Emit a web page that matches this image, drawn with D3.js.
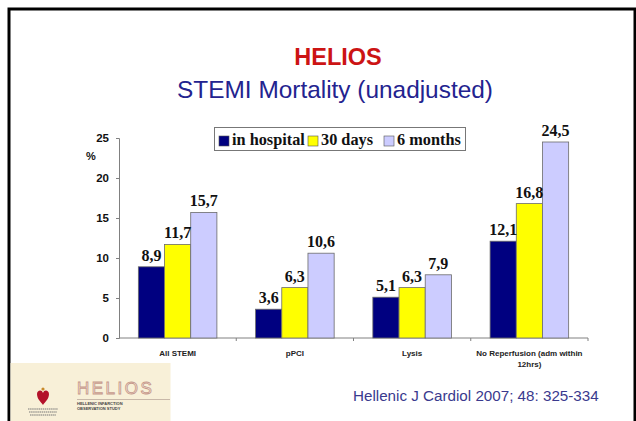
<!DOCTYPE html>
<html>
<head>
<meta charset="utf-8">
<script src="https://cdn.jsdelivr.net/npm/d3@7"></script>
<style>
    body { margin: 0; background: white; font-family: "Liberation Sans", Arial, sans-serif; }
    svg { display: block; }
</style>
</head>
<body>
<svg id="chart"></svg>
<script>
    // chart values
    let categories = ["All STEMI", "pPCI", "Lysis", "No Reperfusion (adm within|12hrs)"]
    let seriesNames = ["in hospital", "30 days", "6 months"]
    let inHospital = [8.9, 3.6, 5.1, 12.1]
    let days30 = [11.7, 6.3, 6.3, 16.8]
    let months6 = [15.7, 10.6, 7.9, 24.5]
    let yTicks = [0, 5, 10, 15, 20, 25]
    let seriesColors = ["#000080", "#ffff00", "#ccccff"]

    let width = 636, height = 421
    let margin = { top: 138, left: 119, right: 48, bottom: 83 }
    let bodyWidth = width - margin.left - margin.right
    let bodyHeight = height - margin.top - margin.bottom

    let svg = d3.select("#chart").attr("width", width).attr("height", height)

    // slide frame
    svg.append("path")
        .attr("d", `M9,${height} V9 H635 V${height}`)
        .attr("fill", "none").attr("stroke", "black").attr("stroke-width", 3)

    // titles
    svg.append("text").attr("x", 338).attr("y", 65).attr("text-anchor", "middle")
        .style("font-weight", "bold").style("font-size", "23.5px").attr("fill", "#cc1414")
        .text("HELIOS")
    svg.append("text").attr("x", 335).attr("y", 98).attr("text-anchor", "middle")
        .style("font-size", "24.4px").attr("fill", "#23238f")
        .text("STEMI Mortality (unadjusted)")

    let rows = categories.map((c, i) => ({ cat: c, vals: [inHospital[i], days30[i], months6[i]] }))

    let xScale = d3.scaleBand().domain(categories).range([0, bodyWidth]).paddingInner(0.33).paddingOuter(0.165)
    let xInner = d3.scaleBand().domain(d3.range(seriesNames.length)).range([0, xScale.bandwidth()])
    let yScale = d3.scaleLinear().domain([0, 25]).range([bodyHeight, 0])

    let body = svg.append("g").attr("transform", `translate(${margin.left},${margin.top})`)

    // axes
    let axisY = body.append("g").call(d3.axisLeft(yScale).tickValues(yTicks).tickSize(3).tickPadding(7))
    axisY.selectAll("path, line").attr("stroke", "#808080")
    axisY.selectAll("text").style("font-size", "11.5px").style("font-weight", "bold")
        .style("font-family", "Liberation Sans, Arial").attr("fill", "#111")

    let bandStep = xScale.step()
    let axisX = body.append("g").attr("transform", `translate(0,${bodyHeight})`)
    axisX.append("line").attr("x1", 0).attr("x2", bodyWidth).attr("stroke", "#808080")
    axisX.selectAll(".tk").data(d3.range(1, categories.length + 1)).enter().append("line")
        .attr("x1", d => d * bandStep).attr("x2", d => d * bandStep)
        .attr("y1", 0).attr("y2", 3).attr("stroke", "#808080")

    let catLabels = axisX.selectAll(".cat").data(categories).enter().append("text")
        .attr("text-anchor", "middle")
        .attr("transform", d => `translate(${xScale(d) + xScale.bandwidth() / 2},0)`)
        .style("font-size", "8px").style("font-weight", "bold").attr("fill", "#222")
    catLabels.each(function(d) {
        let lines = d.split("|")
        lines.forEach((l, i) => {
            d3.select(this).append("tspan").attr("x", 0).attr("y", 18 + i * 11).text(l)
        })
    })

    body.append("text").attr("x", -33).attr("y", 22)
        .style("font-size", "11px").style("font-weight", "bold").attr("fill", "#111").text("%")

    // bars
    let groups = body.selectAll(".grp").data(rows).enter().append("g")
        .attr("transform", d => `translate(${xScale(d.cat)},0)`)
    groups.selectAll("rect").data(d => d.vals).enter().append("rect")
        .attr("x", (d, i) => xInner(i))
        .attr("y", d => yScale(d))
        .attr("width", xInner.bandwidth())
        .attr("height", d => bodyHeight - yScale(d))
        .attr("fill", (d, i) => seriesColors[i])
        .attr("stroke", "#6b6b6b").attr("stroke-width", 0.8)

    let fmt = v => d3.format(".1f")(v).replace(".", ",")
    groups.selectAll(".lbl").data(d => d.vals).enter().append("text")
        .attr("x", (d, i) => xInner(i) + xInner.bandwidth() / 2)
        .attr("y", d => yScale(d) - 6)
        .attr("text-anchor", "middle")
        .style("font-family", "Liberation Serif, Times New Roman, serif")
        .style("font-weight", "bold").style("font-size", "16px").attr("fill", "#111")
        .text(fmt)

    // legend (swatch positions)
    let legendX = [219, 308, 384]
    let legend = svg.append("g")
    legend.append("rect").attr("x", 214.5).attr("y", 127.5).attr("width", 251).attr("height", 23)
        .attr("fill", "white").attr("stroke", "#777")
    seriesNames.forEach((name, i) => {
        legend.append("rect").attr("x", legendX[i]).attr("y", 136).attr("width", 10).attr("height", 10)
            .attr("fill", seriesColors[i]).attr("stroke", "#555").attr("stroke-width", 0.6)
        legend.append("text").attr("x", legendX[i] + 13).attr("y", 145)
            .style("font-family", "Liberation Serif, Times New Roman, serif")
            .style("font-weight", "bold").style("font-size", "16.3px").attr("fill", "#111")
            .text(name)
    })

    // footer logo panel
    let foot = svg.append("g")
    foot.append("rect").attr("x", 10.5).attr("y", 363).attr("width", 160).attr("height", height - 363)
        .attr("fill", "#f8f0d8")
    foot.append("path")
        .attr("d", "M37,394 C37,390 42,389 43,393 C44,389 49,390 49,394 C49,399 45,402 43,405 C41,402 37,399 37,394 Z")
        .attr("fill", "#b3122a")
    foot.append("circle").attr("cx", 43).attr("cy", 389).attr("r", 1.6).attr("fill", "#c98a2a")
    ;[409, 412, 415].forEach((y, i) => {
        foot.append("line").attr("x1", 28 + i).attr("x2", 58 - i).attr("y1", y).attr("y2", y)
            .attr("stroke", "#777").attr("stroke-width", 1).attr("stroke-dasharray", "1.5,0.6")
    })
    foot.append("text").attr("x", 77).attr("y", 394)
        .style("font-size", "17px").style("letter-spacing", "2.5px")
        .attr("fill", "#fbf4e6").attr("stroke", "#c79a8c").attr("stroke-width", 0.9)
        .text("HELIOS")
    foot.append("line").attr("x1", 77).attr("x2", 170).attr("y1", 399.5).attr("y2", 399.5)
        .attr("stroke", "#c8b8a8").attr("stroke-width", 1)
    foot.append("text").attr("x", 77).attr("y", 405).style("font-size", "4px").style("font-weight", "bold")
        .attr("fill", "#444").text("HELLENIC INFARCTION")
    foot.append("text").attr("x", 77).attr("y", 410).style("font-size", "4px").style("font-weight", "bold")
        .attr("fill", "#444").text("OBSERVATION STUDY")

    svg.append("text").attr("x", 353).attr("y", 401)
        .style("font-size", "15.2px").attr("fill", "#3a3a8e")
        .text("Hellenic J Cardiol 2007; 48: 325-334")
</script>
</body>
</html>
